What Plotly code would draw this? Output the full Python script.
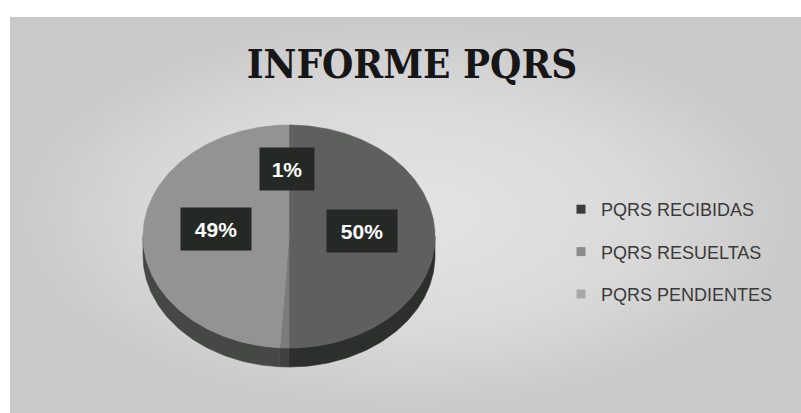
import numpy as np
import plotly.graph_objects as go

# Chart data
categories = ["PQRS RECIBIDAS", "PQRS RESUELTAS", "PQRS PENDIENTES"]
shares = [50, 1, 49]
label_texts = ["50%", "1%", "49%"]

# Styling
top_colors = ["#5e605e", "#7c7c7c", "#939393"]
wall_colors = ["#2c302c", "#404240", "#464846"]
legend_colors = ["#3a3c3a", "#8a8a8a", "#a8a8a8"]

W, H = 801, 413
CX, CY, RX, RY, DEPTH = 289, 236.5, 146, 111.5, 19
# label placement (fraction of radius, optional angle override in degrees)
label_radius = 0.5
label_angle_override = {1: -1.5}
label_radius_override = {1: 0.55}
label_dy = -6

fig = go.Figure()

# panel background with soft radial shading
px0, py0 = 10, 17
fig.add_trace(go.Scatter(
    x=[px0, W, W, px0, px0], y=[py0, py0, H, H, py0],
    mode="lines", fill="toself", line=dict(width=0),
    fillgradient=dict(type="radial",
                      colorscale=[[0, "#e4e4e4"], [0.6, "#d9d9d9"], [1, "#c9c9c9"]]),
    hoverinfo="skip", showlegend=False))


def ell(theta_deg, dy=0.0):
    t = np.radians(theta_deg)
    return CX + RX * np.sin(t), CY - RY * np.cos(t) + dy


total = float(sum(shares))
bounds = np.concatenate([[0], np.cumsum(shares)]) / total * 360.0

# side walls (only the front half of the rim is visible)
for i, name in enumerate(categories):
    a0, a1 = max(bounds[i], 90), min(bounds[i + 1], 270)
    if a1 <= a0:
        continue
    th = np.linspace(a0, a1, 80)
    xt, yt = ell(th)
    xb, yb = ell(th[::-1], DEPTH)
    fig.add_trace(go.Scatter(
        x=np.concatenate([xt, xb, xt[:1]]), y=np.concatenate([yt, yb, yt[:1]]),
        mode="lines", fill="toself", fillcolor=wall_colors[i],
        line=dict(width=0.6, color=wall_colors[i]),
        hoverinfo="skip", showlegend=False))

# top faces
for i, name in enumerate(categories):
    th = np.linspace(bounds[i], bounds[i + 1], max(4, int(shares[i] * 4)))
    xs, ys = ell(th)
    fig.add_trace(go.Scatter(
        x=np.concatenate([[CX], xs, [CX]]), y=np.concatenate([[CY], ys, [CY]]),
        mode="lines", fill="toself", fillcolor=top_colors[i],
        line=dict(width=0.6, color=top_colors[i]),
        name=name, hoverinfo="skip", showlegend=False))

# legend entries
for i, name in enumerate(categories):
    fig.add_trace(go.Scatter(
        x=[None], y=[None], mode="markers", name=name, legendgroup=name,
        marker=dict(symbol="square", size=9, color=legend_colors[i])))

# data labels
for i, txt in enumerate(label_texts):
    mid = label_angle_override.get(i, (bounds[i] + bounds[i + 1]) / 2)
    r = label_radius_override.get(i, label_radius)
    t = np.radians(mid)
    lx = CX + RX * r * np.sin(t)
    ly = CY - RY * r * np.cos(t) + label_dy
    fig.add_annotation(
        x=lx, y=ly, text=f"<b>{txt}</b>", showarrow=False,
        font=dict(family="Liberation Sans", size=21, color="white"),
        bgcolor="#252925", width=40 if len(txt) < 3 else 56, height=28,
        borderpad=7)

fig.update_layout(
    width=W, height=H,
    margin=dict(l=0, r=0, t=0, b=0),
    paper_bgcolor="white", plot_bgcolor="rgba(0,0,0,0)",
    xaxis=dict(range=[0, W], visible=False, fixedrange=True),
    yaxis=dict(range=[H, 0], visible=False, fixedrange=True),
    title=dict(text="<b>INFORME PQRS</b>", x=412 / W, xanchor="center",
               y=1 - 64 / H, yanchor="middle",
               font=dict(family="DejaVu Serif Condensed", size=40, color="#161616")),
    legend=dict(x=561 / W, y=1 - 191 / H, xanchor="left", yanchor="top",
                bgcolor="rgba(0,0,0,0)", tracegroupgap=16,
                font=dict(family="Liberation Sans", size=18, color="#3a3a3a"),
                itemwidth=30),
    showlegend=True,
)

fig.write_html("out.html")
